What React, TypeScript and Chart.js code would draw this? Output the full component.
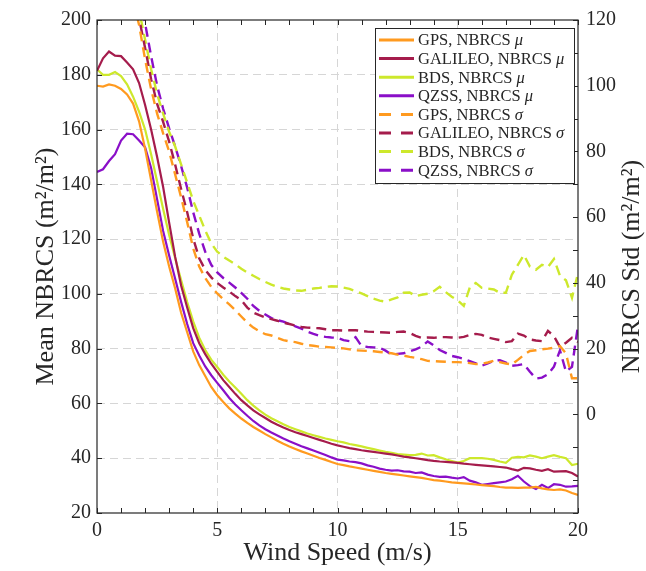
import React, { useEffect, useRef } from "react";
import { Chart, registerables } from "chart.js";

Chart.register(...registerables);

// ---------------- data ----------------
const windSpeed = [
  0, 0.25, 0.5, 0.75, 1, 1.25, 1.5, 1.75, 2, 2.25, 2.5, 2.75, 3, 3.25, 3.5, 3.75,
  4, 4.25, 4.5, 4.75, 5, 5.25, 5.5, 5.75, 6, 6.25, 6.5, 6.75, 7, 7.25, 7.5, 7.75,
  8, 8.25, 8.5, 8.75, 9, 9.25, 9.5, 9.75, 10, 10.25, 10.5, 10.75, 11, 11.25, 11.5, 11.75,
  12, 12.25, 12.5, 12.75, 13, 13.25, 13.5, 13.75, 14, 14.25, 14.5, 14.75, 15, 15.25, 15.5, 15.75,
  16, 16.25, 16.5, 16.75, 17, 17.25, 17.5, 17.75, 18, 18.25, 18.5, 18.75, 19, 19.25, 19.5, 19.75, 20,
];

const gpsMean = [
  176, 175.7, 176.5, 176, 174.8, 172.8, 169.5, 163, 153, 141.5, 130, 119, 110, 102, 93, 86,
  79, 74, 70, 66, 63, 60.5, 58.2, 56.3, 54.5, 52.9, 51.4, 50.1, 48.8, 47.6, 46.4, 45.3,
  44.3, 43.4, 42.5, 41.7, 40.9, 40.1, 39.4, 38.6, 37.9,
  37.5, 37.0, 36.6, 36.2, 35.8, 35.4, 35.0, 34.6, 34.3, 34.0, 33.7, 33.4, 33.1, 32.8, 32.4, 32.0,
  31.8, 31.5, 31.2, 31.0, 30.8, 30.6, 30.4, 30.2, 30.0, 29.8, 29.5, 29.3, 29.3, 29.2, 29.3, 29.3,
  29.5, 29.0, 28.6, 28.4, 28.6, 28.2, 27.3, 26.6,
];

const galileoMean = [
  181.5, 186, 188.5, 187, 186.8, 184.5, 182, 177, 169, 160, 150, 139, 126, 113.5, 103, 95,
  87.5, 82, 78, 74.5, 71.5, 68.5, 66, 63.5, 61.2, 59.3, 57.5, 56, 54.7, 53.3, 52.2, 51.2,
  50.3, 49.5, 48.8, 48.1, 47.4, 46.7, 46.0, 45.3, 44.7,
  44.2, 43.7, 43.3, 42.9, 42.6, 42.3, 42.0, 41.7, 41.4, 41.0, 40.6, 40.3, 40.0, 39.7, 39.3, 39.0,
  38.8, 38.7, 38.5, 38.3, 38.0, 37.8, 37.6, 37.4, 37.2, 37.0, 36.8, 36.6, 36.0, 35.5, 36.5, 36.3,
  35.8, 35.4, 36.0, 35.1, 35.2, 35.3, 34.6, 33.3,
];

const bdsMean = [
  182, 180, 180, 181, 179.5, 176.5, 172, 166.5, 160, 151, 141, 131, 121.5, 113, 105, 97,
  90, 84, 79.5, 76, 73.3, 70.5, 68, 65.8, 63.5, 61.2, 59.2, 57.5, 55.9, 54.6, 53.5, 52.4,
  51.4, 50.6, 49.8, 49.0, 48.4, 47.8, 47.2, 46.7, 46.2,
  45.8, 45.2, 44.8, 44.3, 43.8, 43.3, 42.8, 42.3, 42.0, 41.5, 41.3, 41.1, 41.2, 41.7, 41.0, 41.1,
  40.3, 39.6, 39.0, 38.4, 39.0, 40.0, 40.0, 40.0, 39.8, 39.4, 38.8, 38.3, 40.2, 40.5, 40.3, 41.0,
  40.6, 40.0, 40.6, 41.1, 40.5, 40.0, 37.5, 38.0,
];

const qzssMean = [
  144.5, 145.5, 148.5, 151, 156, 158.5, 158.3, 156, 153.5, 146, 134.5, 123, 114, 105.5, 97, 89,
  82, 77.5, 73.5, 70.3, 67.5, 64.8, 62, 59.6, 57.5, 55.5, 53.6, 52.0, 50.6, 49.4, 48.3, 47.2,
  46.2, 45.3, 44.4, 43.6, 42.8, 42.0, 41.2, 40.3, 39.5,
  39.2, 38.8, 38.6, 38.1, 37.4, 36.9, 36.2, 35.8, 35.5, 35.6, 35.2, 35.1, 34.6, 34.8, 34.0, 33.5,
  33.2, 33.3, 32.9, 32.6, 33.1, 31.8, 31.2, 30.3, 30.6, 30.9, 31.2, 31.5, 32.3, 33.6, 31.5, 29.8,
  28.8, 30.3, 29.1, 30.5, 30.3, 29.6, 29.7, 29.9,
];

const gpsStd = [
  null, null, null, null, null, null,
  126, 118.5, 108, 99, 91.5, 85.5, 80, 73, 66, 58.5, 50.5, 45, 41.5, 38.8,
  36.8, 35, 33.5, 31.7, 29.8, 27.9, 26.4, 25.3, 24.4, 24.0, 23.3, 22.6,
  22.2, 22.0, 21.5, 21.1, 20.9, 20.6, 20.5, 20.4, 20.2,
  20.1, 19.8, 19.5, 19.4, 19.3, 19.2, 19.0, 18.8, 18.6, 18.2, 17.9, 17.5, 17.2, 16.8, 16.3, 16.2,
  16.1, 16.0, 15.9, 15.9, 15.8, 15.6, 15.3, 15.4, 15.8, 16.3, 15.9, 15.5, 15.2, 16.6, 18.1, 19.3,
  19.5, 19.8, 20.0, 20.3, 20.8, 18.5, 11.0, 11.0,
];

const galileoStd = [
  null, null, null, null, null, null,
  128, 120.5, 111.5, 102, 94.5, 89, 83, 76, 68.5, 61.5, 53.5, 47.5, 44, 41.7,
  40, 38.6, 37.4, 36, 34.8, 32.5, 31, 30.2, 29.5, 29.0, 28.5, 27.9,
  27.5, 27.0, 26.6, 26.4, 26.3, 26.2, 25.9, 25.6, 25.6,
  25.5, 25.6, 25.6, 25.4, 25.2, 25.1, 25.0, 24.9, 24.8, 25.1, 25.2, 24.8, 23.9, 23.3, 23.4, 23.3,
  23.5, 23.5, 23.4, 23.3, 23.6, 24.2, 24.5, 24.2, 23.4, 23.0, 22.6, 22.0, 22.3, 24.6, 24.0, 22.8,
  22.5, 22.3, 25.4, 23.8, 20.5, 21.8, 23.3, 22.0,
];

const bdsStd = [
  null, null, null, null, null, null,
  130, 123, 114, 105, 97.5, 91.5, 86, 81.5, 76, 70.5, 65, 60.5, 56, 52,
  49.5, 48, 46.8, 45.7, 44.3, 43.2, 42.2, 41.2, 40.3, 39.5, 38.8, 38.3,
  38.0, 37.7, 37.6, 37.9, 38.3, 38.5, 38.8, 39.0, 38.9,
  38.6, 38.2, 37.5, 36.8, 36.0, 35.2, 34.6, 34.3, 35.0, 35.6, 37.0, 37.1, 36.0, 36.4, 36.7, 37.5,
  38.8, 37.2, 35.8, 34.7, 33.0, 38.6, 40.0, 38.5, 38.3, 38.0, 37.0, 37.0, 42.5, 45.5, 48.5, 45.0,
  44.0, 45.5, 44.8, 47.3, 42.2, 40.8, 35.5, 43.0,
];

const qzssStd = [
  null, null, null, null, null, null,
  137, 128, 119, 109, 100, 93, 87, 81.5, 75.5, 69, 61.5, 55, 49.5, 45.5,
  43.2, 41.5, 40.1, 38.6, 37, 35.2, 33.0, 31.5, 30.4, 29.3, 28.7, 28.2,
  27.5, 26.8, 26.1, 25.2, 24.5, 23.9, 23.6, 23.4, 23.3,
  22.6, 22.3, 23.5, 20.8, 20.5, 20.4, 20.3, 19.4, 18.2, 18.4, 18.6, 19.2, 19.8, 20.6, 22.2, 21.0,
  19.6, 18.7, 17.8, 17.4, 16.9, 16.2, 15.5, 14.8, 15.5, 16.3, 16.5, 15.8, 14.8, 15.0, 15.3, 13.0,
  10.9, 11.2, 12.2, 14.5, 19.5, 13.0, 14.5, 27.0,
];

const seriesNames = ["GPS", "GALILEO", "BDS", "QZSS"];
const seriesColors = ["#ff9a1f", "#a51c4c", "#cde82c", "#8a0fc8"];
const xTickValues = [0, 5, 10, 15, 20];
const leftTickValues = [20, 40, 60, 80, 100, 120, 140, 160, 180, 200];
const rightLabelValues = [0, 20, 40, 60, 80, 100, 120];

const FONT = '"Liberation Serif", "Times New Roman", serif';
const TEXT = "#262626";

const toPoints = (vals: (number | null)[]) =>
  windSpeed.map((x, i) => ({ x, y: vals[i] }));

const decorPlugin = {
  id: "decor",
  afterDraw(chart: any) {
    const { ctx, chartArea } = chart;
    const { left, right, top, bottom } = chartArea;
    const xs = chart.scales.x;
    const yl = chart.scales.y;
    const yr = chart.scales.y1;
    ctx.save();
    // frame
    ctx.strokeStyle = TEXT;
    ctx.lineWidth = 1.2;
    ctx.setLineDash([]);
    ctx.strokeRect(left, top, right - left, bottom - top);
    // ticks
    ctx.lineWidth = 1;
    ctx.beginPath();
    for (let v = xs.min; v <= xs.max; v += 1) {
      const px = Math.round(xs.getPixelForValue(v)) + 0.5;
      ctx.moveTo(px, bottom);
      ctx.lineTo(px, bottom - 5);
      ctx.moveTo(px, top);
      ctx.lineTo(px, top + 5);
    }
    for (let v = yl.min; v <= yl.max; v += 20) {
      const py = Math.round(yl.getPixelForValue(v)) + 0.5;
      ctx.moveTo(left, py);
      ctx.lineTo(left + 5, py);
    }
    for (let v = yr.min; v <= yr.max; v += 10) {
      const py = Math.round(yr.getPixelForValue(v)) + 0.5;
      ctx.moveTo(right, py);
      ctx.lineTo(right - 5, py);
    }
    ctx.stroke();

    // axis titles
    ctx.fillStyle = TEXT;
    ctx.textAlign = "center";
    ctx.textBaseline = "middle";
    ctx.font = `26px ${FONT}`;
    ctx.fillText("Wind Speed (m/s)", (left + right) / 2, 553);
    const cy = (top + bottom) / 2;
    ctx.save();
    ctx.translate(46, cy);
    ctx.rotate(-Math.PI / 2);
    ctx.fillText("Mean NBRCS (m\u00B2/m\u00B2)", 0, 0);
    ctx.restore();
    ctx.save();
    ctx.translate(632, cy);
    ctx.rotate(-Math.PI / 2);
    ctx.fillText("NBRCS Std (m\u00B2/m\u00B2)", 0, 0);
    ctx.restore();

    // legend
    const bw = 199;
    const bh = 155;
    const bx = right - 4 - bw;
    const by = top + 8;
    ctx.fillStyle = "#ffffff";
    ctx.fillRect(bx, by, bw, bh);
    ctx.strokeStyle = TEXT;
    ctx.lineWidth = 1;
    ctx.strokeRect(bx + 0.5, by + 0.5, bw, bh);
    const rowH = 18.6;
    chart.data.datasets.forEach((ds: any, i: number) => {
      const ry = by + 12 + i * rowH;
      ctx.strokeStyle = ds.borderColor;
      ctx.lineWidth = 3;
      ctx.setLineDash(ds.borderDash && ds.borderDash.length ? [12, 10] : []);
      ctx.beginPath();
      ctx.moveTo(bx + 4, ry);
      ctx.lineTo(bx + 39, ry);
      ctx.stroke();
      ctx.setLineDash([]);
      const label: string = ds.label;
      const main = label.slice(0, -1);
      const greek = label.slice(-1);
      ctx.fillStyle = TEXT;
      ctx.textAlign = "left";
      ctx.textBaseline = "middle";
      ctx.font = `16.5px ${FONT}`;
      ctx.fillText(main, bx + 43, ry + 1);
      const w = ctx.measureText(main).width;
      ctx.font = `italic 16.5px ${FONT}`;
      ctx.fillText(greek, bx + 43 + w, ry + 1);
    });
    ctx.restore();
  },
};

export default function App() {
  const canvasRef = useRef<HTMLCanvasElement | null>(null);

  useEffect(() => {
    document.body.style.margin = "0";
    const canvas = canvasRef.current;
    if (!canvas) return;

    const meanSets = [gpsMean, galileoMean, bdsMean, qzssMean].map((vals, i) => ({
      label: `${seriesNames[i]}, NBRCS \u03BC`,
      data: toPoints(vals),
      borderColor: seriesColors[i],
      backgroundColor: seriesColors[i],
      borderWidth: 2.2,
      pointRadius: 0,
      tension: 0,
      yAxisID: "y",
      borderDash: [] as number[],
    }));
    const stdSets = [gpsStd, galileoStd, bdsStd, qzssStd].map((vals, i) => ({
      label: `${seriesNames[i]}, NBRCS \u03C3`,
      data: toPoints(vals),
      borderColor: seriesColors[i],
      backgroundColor: seriesColors[i],
      borderWidth: 2.4,
      pointRadius: 0,
      tension: 0,
      yAxisID: "y1",
      borderDash: [10, 6],
    }));

    const tickFont = { family: FONT, size: 20 };
    const gridColor = (edgeA: number, edgeB: number) => (c: any) =>
      c.tick && (c.tick.value === edgeA || c.tick.value === edgeB) ? "rgba(0,0,0,0)" : "#d6d6d6";

    const chart = new Chart(canvas, {
      type: "line",
      data: { datasets: [...meanSets, ...stdSets] as any },
      options: {
        responsive: false,
        animation: false,
        layout: { padding: { top: 17, left: 0, right: 0, bottom: 0 } },
        plugins: { legend: { display: false }, tooltip: { enabled: false } },
        scales: {
          x: {
            type: "linear",
            min: 0,
            max: 20,
            afterBuildTicks: (s: any) => {
              s.ticks = xTickValues.map((v) => ({ value: v }));
            },
            ticks: { font: tickFont, color: TEXT, padding: 6, maxRotation: 0, autoSkip: false },
            grid: { color: gridColor(0, 20), lineWidth: 1, drawTicks: false },
            border: { display: false, dash: [8, 5] },
            afterFit: (s: any) => {
              s.height = 58;
            },
          },
          y: {
            type: "linear",
            position: "left",
            min: 20,
            max: 200,
            afterBuildTicks: (s: any) => {
              s.ticks = leftTickValues.map((v) => ({ value: v }));
            },
            ticks: { font: tickFont, color: TEXT, padding: 6 },
            grid: { color: gridColor(20, 200), lineWidth: 1, drawTicks: false },
            border: { display: false, dash: [8, 5] },
            afterFit: (s: any) => {
              s.width = 97;
            },
          },
          y1: {
            type: "linear",
            position: "right",
            min: -30,
            max: 120,
            afterBuildTicks: (s: any) => {
              s.ticks = rightLabelValues.map((v) => ({ value: v }));
            },
            ticks: { font: tickFont, color: TEXT, padding: 8 },
            grid: { drawOnChartArea: false, drawTicks: false },
            border: { display: false },
            afterFit: (s: any) => {
              s.width = 68;
            },
          },
        },
      },
      plugins: [decorPlugin],
    });

    return () => {
      chart.destroy();
    };
  }, []);

  return (
    <canvas
      ref={canvasRef}
      width={646}
      height={571}
      style={{ display: "block", width: 646, height: 571 }}
    />
  );
}
